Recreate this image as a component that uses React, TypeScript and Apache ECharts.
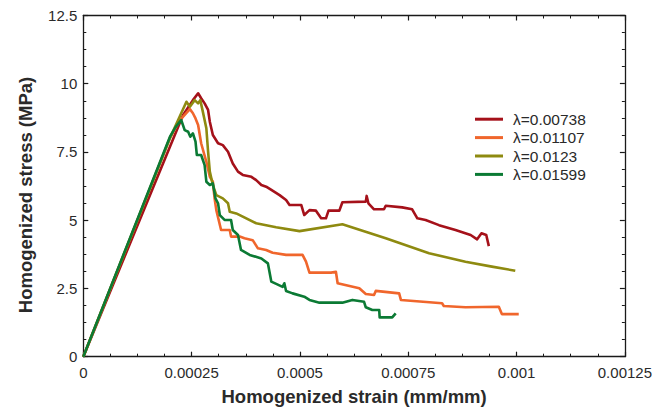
import React, { useEffect, useRef } from "react";
import * as echarts from "echarts";

const seriesNames = ["λ=0.00738", "λ=0.01107", "λ=0.0123", "λ=0.01599"];
const seriesColors = ["#A5111A", "#F0662C", "#8E8A10", "#0B7A34"];

const xTickValues = [0, 0.00025, 0.0005, 0.00075, 0.001, 0.00125];
const yTickValues = [0, 2.5, 5, 7.5, 10, 12.5];

const strainA = [0, 0.00023, 0.000253, 0.000265, 0.000272, 0.00028, 0.000288, 0.000292, 0.000299, 0.000311, 0.000322, 0.000334, 0.000345, 0.000357, 0.000368, 0.000388, 0.000399, 0.000411, 0.000422, 0.000434, 0.000453, 0.000468, 0.000476, 0.000503, 0.00051, 0.000522, 0.000537, 0.000549, 0.00056, 0.000566, 0.000591, 0.000598, 0.000652, 0.000654, 0.000658, 0.000671, 0.000694, 0.000698, 0.000736, 0.000759, 0.000771, 0.00079, 0.000821, 0.000859, 0.000894, 0.000909, 0.000919, 0.00093, 0.000936];
const stressA = [0, 8.85, 9.4, 9.65, 9.47, 9.28, 9.04, 8.61, 8.12, 7.82, 7.75, 7.51, 7.08, 6.78, 6.66, 6.59, 6.47, 6.29, 6.23, 6.11, 5.92, 5.74, 5.56, 5.56, 5.19, 5.37, 5.35, 5.07, 5.07, 5.35, 5.35, 5.66, 5.68, 5.89, 5.62, 5.4, 5.4, 5.53, 5.47, 5.4, 5.07, 5.01, 4.82, 4.64, 4.46, 4.3, 4.52, 4.46, 4.05];

const strainB = [0, 0.0002, 0.000223, 0.000246, 0.000253, 0.000259, 0.000265, 0.000272, 0.000284, 0.000292, 0.000299, 0.000303, 0.000307, 0.000318, 0.000338, 0.000341, 0.000361, 0.000372, 0.000391, 0.000403, 0.000422, 0.000437, 0.000468, 0.000506, 0.000514, 0.000522, 0.000572, 0.000583, 0.000587, 0.000637, 0.000652, 0.000671, 0.000675, 0.000729, 0.000733, 0.000828, 0.000832, 0.000882, 0.000959, 0.000966, 0.001005];
const stressB = [0, 8.01, 8.67, 9.07, 8.92, 8.73, 8.49, 7.82, 7.14, 6.59, 6.41, 5.8, 5.37, 4.64, 4.64, 4.4, 4.4, 4.34, 4.27, 3.97, 3.91, 3.81, 3.73, 3.73, 3.48, 3.08, 3.08, 3.11, 2.69, 2.51, 2.3, 2.26, 2.41, 2.32, 2.08, 1.96, 1.86, 1.81, 1.83, 1.56, 1.56];

const strainC = [0, 0.0002, 0.000238, 0.000246, 0.000257, 0.000265, 0.00027, 0.000276, 0.000284, 0.000288, 0.000292, 0.000299, 0.000307, 0.000322, 0.000334, 0.000338, 0.000353, 0.000399, 0.000445, 0.000499, 0.000598, 0.000698, 0.000798, 0.000882, 0.000943, 0.000997];
const stressC = [0, 8.01, 9.34, 9.16, 9.4, 9.28, 9.4, 8.97, 8.37, 7.51, 6.78, 6.29, 5.92, 5.8, 5.62, 5.31, 5.25, 4.89, 4.74, 4.6, 4.85, 4.34, 3.79, 3.48, 3.3, 3.15];

const strainD = [0, 0.0002, 0.000213, 0.000226, 0.000234, 0.000242, 0.000247, 0.000253, 0.000259, 0.000262, 0.000272, 0.00028, 0.000284, 0.000292, 0.000299, 0.000305, 0.000311, 0.000315, 0.000326, 0.000341, 0.000345, 0.000357, 0.000364, 0.000384, 0.000411, 0.000426, 0.000434, 0.00046, 0.000464, 0.000468, 0.000483, 0.00051, 0.000522, 0.000545, 0.000598, 0.000621, 0.000648, 0.000652, 0.000667, 0.000683, 0.000684, 0.000713, 0.000721];
const stressD = [0, 8.06, 8.41, 8.67, 8.3, 8.24, 8.06, 8.18, 7.88, 7.39, 7.39, 7.02, 6.41, 6.29, 6.35, 5.8, 5.62, 5.19, 5.01, 5.01, 4.64, 4.46, 3.91, 3.73, 3.6, 3.42, 2.75, 2.56, 2.69, 2.41, 2.32, 2.2, 2.08, 1.98, 1.98, 2.08, 2.01, 1.81, 1.71, 1.71, 1.44, 1.44, 1.59];

const strains = [strainA, strainB, strainC, strainD];
const stresses = [stressA, stressB, stressC, stressD];

const xTitle = "Homogenized strain (mm/mm)";
const yTitle = "Homogenized stress (MPa)";

const FONT = "'Liberation Sans', Arial, Helvetica, sans-serif";
const AXIS_COLOR = "#1a1a1a";
const TEXT_COLOR = "#2a2a2a";
const fmt = (v: number) => String(+Number(v).toPrecision(6));

const mkLine = () => ({ show: true, onZero: false, lineStyle: { color: AXIS_COLOR, width: 1.3 } });
const mkTick = () => ({ show: true, inside: true, length: 5, lineStyle: { color: AXIS_COLOR, width: 1.2 } });
const mkMinor = () => ({ show: true, splitNumber: 4, length: 3, lineStyle: { color: AXIS_COLOR, width: 1 } });

export default function App() {
  const ref = useRef<HTMLDivElement>(null);
  useEffect(() => {
    const chart = echarts.init(ref.current!, null, { renderer: "svg" });
    const xMin = xTickValues[0];
    const xMax = xTickValues[xTickValues.length - 1];
    const xInt = xTickValues[1] - xTickValues[0];
    const yMin = yTickValues[0];
    const yMax = yTickValues[yTickValues.length - 1];
    const yInt = yTickValues[1] - yTickValues[0];
    const option: any = {
      animation: false,
      backgroundColor: "#fff",
      textStyle: { fontFamily: FONT },
      grid: { left: 83.3, right: 28.5, top: 15.5, bottom: 54.3, containLabel: false },
      graphic: [
        {
          type: "text",
          x: 25,
          y: 195,
          rotation: Math.PI / 2,
          style: {
            text: yTitle,
            fontFamily: FONT,
            fontSize: 18.5,
            fontWeight: "bold",
            fill: TEXT_COLOR,
            textAlign: "center",
            textVerticalAlign: "middle",
          },
        },
      ],
      legend: {
        show: true,
        orient: "vertical",
        left: 475,
        top: 110,
        padding: 0,
        icon: "rect",
        itemWidth: 28,
        itemHeight: 3,
        itemGap: 0,
        data: seriesNames,
        textStyle: { fontFamily: FONT, fontSize: 15.5, color: TEXT_COLOR, lineHeight: 18.4, padding: [0, 0, 0, 5] },
      },
      xAxis: [
        {
          type: "value",
          min: xMin,
          max: xMax,
          interval: xInt,
          position: "bottom",
          name: xTitle,
          nameLocation: "middle",
          nameGap: 30,
          nameTextStyle: { fontFamily: FONT, fontSize: 18.5, fontWeight: "bold", color: TEXT_COLOR },
          axisLine: mkLine(),
          axisTick: mkTick(),
          minorTick: mkMinor(),
          splitLine: { show: false },
          axisLabel: { show: true, inside: false, margin: 8, fontSize: 15, color: TEXT_COLOR, fontFamily: FONT, formatter: fmt },
        },
        {
          type: "value",
          min: xMin,
          max: xMax,
          interval: xInt,
          position: "top",
          axisLine: mkLine(),
          axisTick: mkTick(),
          minorTick: mkMinor(),
          splitLine: { show: false },
          axisLabel: { show: false },
        },
      ],
      yAxis: [
        {
          type: "value",
          min: yMin,
          max: yMax,
          interval: yInt,
          position: "left",
          axisLine: mkLine(),
          axisTick: mkTick(),
          minorTick: mkMinor(),
          splitLine: { show: false },
          axisLabel: { show: true, inside: false, margin: 6, fontSize: 15, color: TEXT_COLOR, fontFamily: FONT, formatter: fmt },
        },
        {
          type: "value",
          min: yMin,
          max: yMax,
          interval: yInt,
          position: "right",
          axisLine: mkLine(),
          axisTick: mkTick(),
          minorTick: mkMinor(),
          splitLine: { show: false },
          axisLabel: { show: false },
        },
      ],
      series: seriesNames.map((name, i) => ({
        name,
        type: "line",
        xAxisIndex: 0,
        yAxisIndex: 0,
        showSymbol: false,
        symbol: "none",
        color: seriesColors[i],
        lineStyle: { color: seriesColors[i], width: 2.6, join: "round" },
        data: strains[i].map((s, k) => [s, stresses[i][k]]),
      })),
    };
    chart.setOption(option);
    return () => chart.dispose();
  }, []);
  return (
    <div
      ref={ref}
      style={{ position: "fixed", left: 0, top: 0, width: 655, height: 411, background: "#fff" }}
    />
  );
}
